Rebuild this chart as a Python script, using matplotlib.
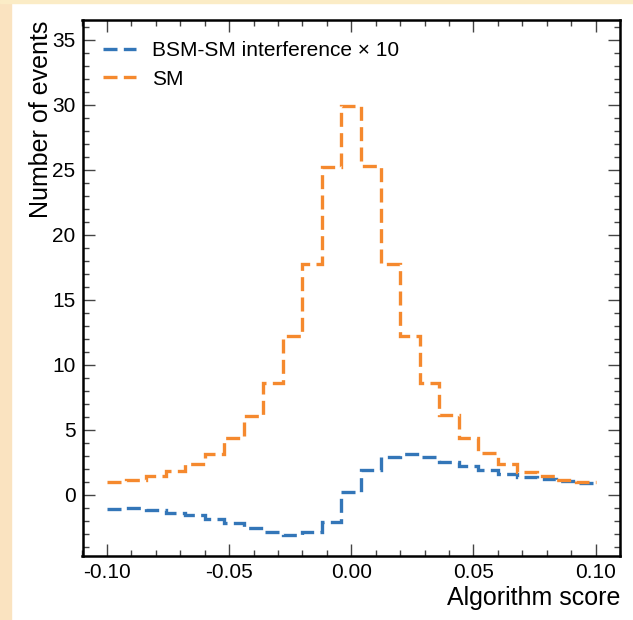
import numpy as np
import matplotlib
matplotlib.use("Agg")
import matplotlib.pyplot as plt
from matplotlib.patches import Rectangle
from matplotlib.ticker import MultipleLocator

# 25 bins between -0.1 and 0.1
bin_edges = np.linspace(-0.10, 0.10, 26)

sm = [0.97, 1.16, 1.45, 1.82, 2.36, 3.18, 4.38, 6.07, 8.60, 12.20, 17.75, 25.22, 29.95,
      25.27, 17.78, 12.23, 8.64, 6.15, 4.37, 3.21, 2.39, 1.80, 1.42, 1.16, 0.97]
interf_x10 = [-1.08, -1.00, -1.15, -1.36, -1.56, -1.82, -2.15, -2.56, -2.82, -3.08, -2.82, -2.10, 0.26,
              1.92, 2.95, 3.13, 2.90, 2.56, 2.23, 1.92, 1.62, 1.36, 1.20, 1.08, 0.95]

labels = ["BSM-SM interference \u00d7 10", "SM"]
colors = ["#3376b8", "#f5892e"]

plt.rcParams["font.family"] = ["Liberation Sans", "DejaVu Sans"]
plt.rcParams["axes.unicode_minus"] = False

fig = plt.figure(figsize=(6.33, 6.2), dpi=100)
# cream page border visible on the left and top
fig.patches.append(Rectangle((0, 0), 11 / 633, 1, transform=fig.transFigure,
                             color="#fae3c0", zorder=-10))
fig.patches.append(Rectangle((0, 1 - 2.7 / 620), 1, 2.7 / 620, transform=fig.transFigure,
                             color="#fbecc6", zorder=-10))

ax = fig.add_axes([82.5 / 633, 64 / 620, (620 - 82.5) / 633, (556 - 20.5) / 620])

ax.stairs(interf_x10, bin_edges, baseline=None, color=colors[0], lw=2.4,
          ls=(0, (4.2, 1.9)), label=labels[0])
ax.stairs(sm, bin_edges, baseline=None, color=colors[1], lw=2.4,
          ls=(0, (4.2, 1.9)), label=labels[1])

ax.set_xlim(-0.11, 0.11)
ax.set_ylim(-4.7, 36.5)
ax.xaxis.set_major_locator(MultipleLocator(0.05))
ax.xaxis.set_minor_locator(MultipleLocator(0.01))
ax.yaxis.set_major_locator(MultipleLocator(5))
ax.yaxis.set_minor_locator(MultipleLocator(1))
ax.xaxis.set_major_formatter(matplotlib.ticker.FormatStrFormatter("%.2f"))

ax.tick_params(which="both", direction="in", top=True, right=True, color="#444444",
               labelsize=15, pad=5)
ax.tick_params(which="major", length=8.5, width=1.0)
ax.tick_params(which="minor", length=4, width=1.0)
for s in ax.spines.values():
    s.set_linewidth(1.8)

ax.set_xlabel("Algorithm score", fontsize=18, loc="right", labelpad=3)
ax.set_ylabel("Number of events", fontsize=18, loc="top")
ax.yaxis.set_label_coords(-0.055, 1.0)

ax.legend(loc="upper left", frameon=False, fontsize=15, handlelength=1.55,
          handletextpad=0.8, labelspacing=0.45, borderaxespad=0.5, borderpad=0.5)

fig.savefig("out.png", dpi=100)
